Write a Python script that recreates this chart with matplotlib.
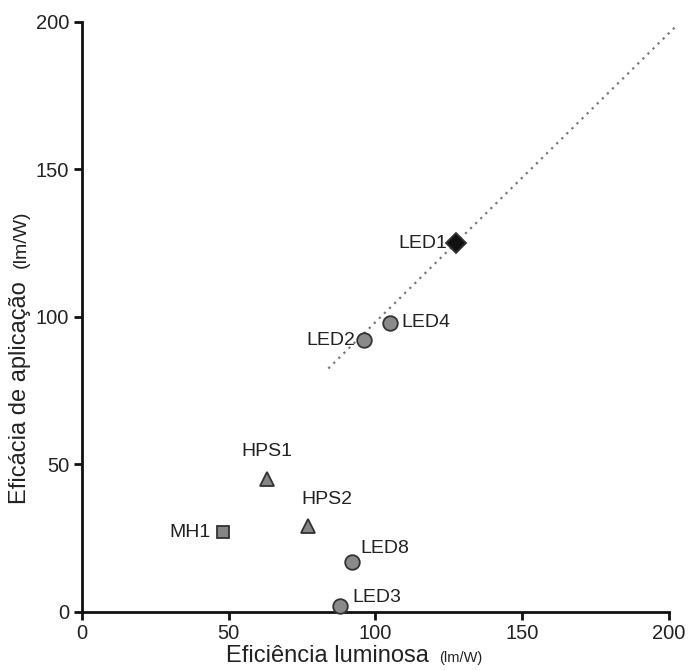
import matplotlib.pyplot as plt

plt.rcParams['font.family'] = ['Liberation Sans', 'DejaVu Sans']

# lamp data: luminous efficiency vs application efficacy (lm/W)
names = ['LED1', 'LED4', 'LED2', 'HPS1', 'HPS2', 'MH1', 'LED8', 'LED3']
eff_lum = [127.5, 105, 96, 63, 77, 48, 92, 88]
eff_apl = [125, 98, 92, 45, 29, 27, 17, 2]
markers = ['D', 'o', 'o', '^', '^', 's', 'o', 'o']
colors = ['#111111', '#8a8a8a', '#8a8a8a', '#858585', '#858585', '#858585', '#8a8a8a', '#8a8a8a']
sizes = [10, 10.5, 10.5, 10, 10, 9, 10.5, 10.5]
# label offsets in points and alignment
offsets = [(-6, 0), (8.5, 0), (-6, 0), (0, 20), (14, 19), (-8.5, 0), (6, 9.5), (8.5, 6.5)]
aligns = ['right', 'left', 'right', 'center', 'center', 'right', 'left', 'left']

# trend line
fit_x = [84, 202]
fit_y = [82.5, 198]

txt = '#222222'

fig = plt.figure(figsize=(6.88, 6.70), dpi=100)
ax = fig.add_axes([0.119, 0.0866, 0.853, 0.881])

ax.plot(fit_x, fit_y, linestyle=(0, (1, 2.2)), color='#777777', lw=1.6, clip_on=False, zorder=1)

for n, x, y, m, c, s, off, ha in zip(names, eff_lum, eff_apl, markers, colors, sizes, offsets, aligns):
    ax.plot(x, y, marker=m, color=c, markersize=s, markeredgecolor='#333333',
            markeredgewidth=1.3, linestyle='none', clip_on=False, zorder=3)
    ax.annotate(n, (x, y), xytext=off, textcoords='offset points', ha=ha, va='center',
                fontsize=14, color=txt)

ax.set_xlim(0, 200)
ax.set_ylim(0, 200)
ax.set_xticks([0, 50, 100, 150, 200])
ax.set_yticks([0, 50, 100, 150, 200])
for side in ['top', 'right']:
    ax.spines[side].set_visible(False)
for side in ['left', 'bottom']:
    ax.spines[side].set_linewidth(2)
    ax.spines[side].set_color('#111111')
ax.tick_params(direction='out', length=6, width=2, color='#111111', labelsize=14.5,
               labelcolor=txt, pad=3)

# axis titles, units set in a smaller size
fig.text(0.328, 0.012, 'Eficiência luminosa', fontsize=17, color=txt, ha='left', va='baseline')
fig.text(0.638, 0.012, '(lm/W)', fontsize=10.5, color=txt, ha='left', va='baseline')
fig.text(0.038, 0.248, 'Eficácia de aplicação', fontsize=17, color=txt, rotation=90,
         rotation_mode='anchor', ha='left', va='baseline')
fig.text(0.038, 0.6, '(lm/W)', fontsize=14, color=txt, rotation=90,
         rotation_mode='anchor', ha='left', va='baseline')

plt.savefig('out.png', dpi=100)
